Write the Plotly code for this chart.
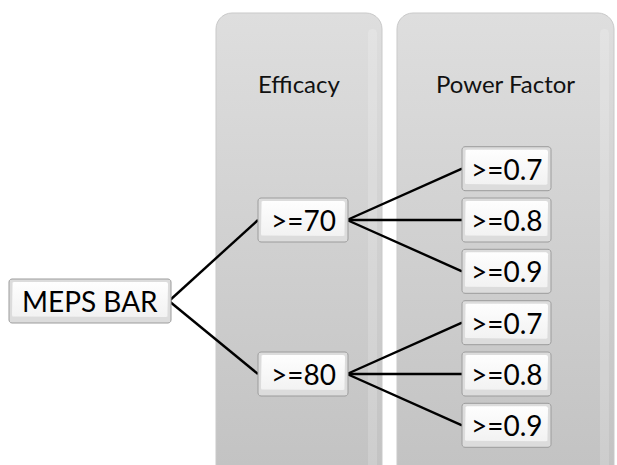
import numpy as np
import plotly.graph_objects as go

# ---------------- data ----------------
root_label = "MEPS BAR"
column_titles = ["Efficacy", "Power Factor"]
efficacy_labels = [">=70", ">=80"]
power_factor_labels = [">=0.7", ">=0.8", ">=0.9"]

# ---------------- layout geometry (pixels) ----------------
W, H = 617, 465
FONT = "Lato"

col_x = [(216, 382), (397, 614)]
col_top = 13
col_bottom = 490
title_y = 83

root_box = (9, 171)
root_cy = 301
eff_box = (258, 348)
eff_cy = [220, 374]
pf_box = (462, 551)
pf_step = 51.3
box_h = 44


def rounded_rect(x0, y0, x1, y1, r, n=8):
    xs, ys = [], []
    corners = [
        (x1 - r, y0 + r, -np.pi / 2, 0),
        (x1 - r, y1 - r, 0, np.pi / 2),
        (x0 + r, y1 - r, np.pi / 2, np.pi),
        (x0 + r, y0 + r, np.pi, 1.5 * np.pi),
    ]
    for cx, cy, a0, a1 in corners:
        t = np.linspace(a0, a1, n)
        xs.extend(cx + r * np.cos(t))
        ys.extend(cy + r * np.sin(t))
    xs.append(xs[0])
    ys.append(ys[0])
    return xs, ys


fig = go.Figure()

# columns (gray rounded panels)
for (x0, x1), title in zip(col_x, column_titles):
    xs, ys = rounded_rect(x0, col_top, x1, col_bottom, 16)
    fig.add_trace(go.Scatter(
        x=xs, y=ys, mode="lines", fill="toself",
        line=dict(color="#c9c9c9", width=1),
        fillgradient=dict(type="vertical", start=col_top, stop=H,
                          colorscale=[[0, "#dedede"], [1, "#c3c3c3"]]),
        hoverinfo="skip", showlegend=False))
    # inner bevel highlight on the right side
    xs2, ys2 = rounded_rect(x1 - 14, col_top + 16, x1 - 5, col_bottom, 4)
    fig.add_trace(go.Scatter(
        x=xs2, y=ys2, mode="lines", fill="toself",
        line=dict(color="rgba(0,0,0,0)", width=0),
        fillcolor="rgba(255,255,255,0.18)",
        hoverinfo="skip", showlegend=False))
    fig.add_annotation(x=(x0 + x1) / 2, y=title_y, text=title, showarrow=False,
                       font=dict(family=FONT, size=24, color="#111111"))

# node positions
nodes = []  # (label, x0, x1, cy)
nodes.append((root_label, root_box[0], root_box[1], root_cy))
edges = []
for i, lab in enumerate(efficacy_labels):
    cy = eff_cy[i]
    nodes.append((lab, eff_box[0], eff_box[1], cy))
    edges.append(((root_box[1] - 2, root_cy), (eff_box[0], cy)))
    n = len(power_factor_labels)
    for j, pl in enumerate(power_factor_labels):
        pcy = cy + (j - (n - 1) / 2) * pf_step
        nodes.append((pl, pf_box[0], pf_box[1], pcy))
        edges.append(((eff_box[1] - 1, cy), (pf_box[0], pcy)))

# edges
ex, ey = [], []
for (a, b) in edges:
    ex += [a[0], b[0], None]
    ey += [a[1], b[1], None]
fig.add_trace(go.Scatter(x=ex, y=ey, mode="lines",
                         line=dict(color="#000000", width=2.4),
                         hoverinfo="skip", showlegend=False))

# node boxes
for lab, x0, x1, cy in nodes:
    y0, y1 = cy - box_h / 2, cy + box_h / 2
    xs, ys = rounded_rect(x0, y0, x1, y1, 3, 4)
    fig.add_trace(go.Scatter(
        x=xs, y=ys, mode="lines", fill="toself",
        line=dict(color="#9c9c9c", width=1),
        fillcolor="#dcdcdc", hoverinfo="skip", showlegend=False))
    xs, ys = rounded_rect(x0 + 3, y0 + 3, x1 - 3, y1 - 6, 2, 3)
    fig.add_trace(go.Scatter(
        x=xs, y=ys, mode="lines", fill="toself",
        line=dict(color="rgba(0,0,0,0)", width=0),
        fillgradient=dict(type="vertical", start=y0, stop=y1,
                          colorscale=[[0, "#ffffff"], [1, "#f0f0f0"]]),
        hoverinfo="skip", showlegend=False))
    fig.add_annotation(x=(x0 + x1) / 2, y=cy, text=lab, showarrow=False,
                       font=dict(family=FONT, size=28, color="#000000"))

fig.update_layout(
    width=W, height=H,
    margin=dict(l=0, r=0, t=0, b=0),
    paper_bgcolor="white", plot_bgcolor="white",
    xaxis=dict(range=[0, W], visible=False, fixedrange=True),
    yaxis=dict(range=[H, 0], visible=False, fixedrange=True),
)

fig.write_html("out.html", config={"displayModeBar": False},
               post_script="document.body.style.margin='0';document.body.style.overflow='hidden';")
